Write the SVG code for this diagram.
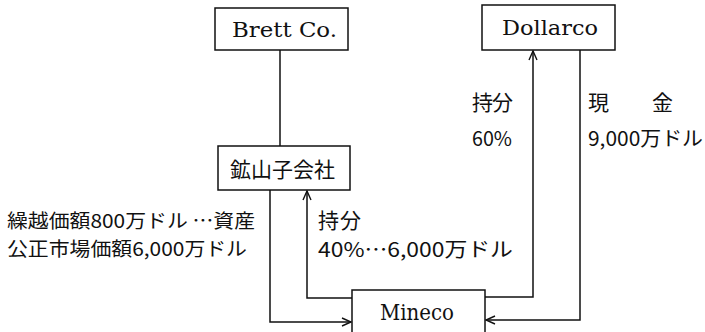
<svg xmlns="http://www.w3.org/2000/svg" width="705" height="332" viewBox="0 0 705 332">
  <defs>
    <marker id="arr" markerUnits="userSpaceOnUse" markerWidth="12" markerHeight="12" refX="10" refY="5" orient="auto">
      <path d="M1,1 L10,5 L1,9" fill="none" stroke="#111" stroke-width="1.4"/>
    </marker>
    <style>
      .box { fill: #fff; stroke: #111; stroke-width: 1.5; }
      .conn { fill: none; stroke: #111; stroke-width: 1.5; }
      .serif { font-family: "DejaVu Serif", "Liberation Serif", serif; fill: #111; }
      .jp { font-family: "Noto Sans CJK JP", "Noto Sans", sans-serif; fill: #111; }
    </style>
  </defs>
  <rect width="705" height="332" fill="#fff"/>

  <g id="connectors">
    <path class="conn" d="M280,50 V146"/>
    <path class="conn" d="M270,190 V322 H351" marker-end="url(#arr)"/>
    <path class="conn" d="M352,298 H307 V191" marker-end="url(#arr)"/>
    <path class="conn" d="M485,297 H533 V51" marker-end="url(#arr)"/>
    <path class="conn" d="M580,50 V320 H486" marker-end="url(#arr)"/>
  </g>

  <g id="brett">
    <rect class="box" x="215" y="8" width="133" height="42"/>
    <text class="serif" x="232" y="37" font-size="21" textLength="105" lengthAdjust="spacingAndGlyphs">Brett Co.</text>
  </g>

  <g id="dollarco">
    <rect class="box" x="482" y="5" width="133" height="45"/>
    <text class="serif" x="502" y="35" font-size="21" textLength="96" lengthAdjust="spacingAndGlyphs">Dollarco</text>
  </g>

  <g id="subsidiary">
    <rect class="box" x="218" y="146" width="132" height="44"/>
    <text class="jp" x="230" y="177" font-size="21" textLength="105" lengthAdjust="spacing">鉱山子会社</text>
  </g>

  <g id="mineco">
    <rect class="box" x="352" y="290" width="133" height="60"/>
    <text class="serif" x="380" y="320" font-size="22" textLength="74" lengthAdjust="spacingAndGlyphs">Mineco</text>
  </g>

  <g id="labels">
    <text class="jp" x="7" y="228" font-size="19" textLength="248" lengthAdjust="spacingAndGlyphs">繰越価額800万ドル  …資産</text>
    <text class="jp" x="7" y="256" font-size="19" textLength="240" lengthAdjust="spacingAndGlyphs">公正市場価額6,000万ドル</text>
    <text class="jp" x="318" y="228" font-size="21" textLength="43" lengthAdjust="spacing">持分</text>
    <text class="jp" x="318" y="257" font-size="20" textLength="195" lengthAdjust="spacingAndGlyphs">40%…6,000万ドル</text>
    <text class="jp" x="472" y="110" font-size="21" textLength="41" lengthAdjust="spacing">持分</text>
    <text class="jp" x="472" y="146" font-size="20" textLength="40" lengthAdjust="spacingAndGlyphs">60%</text>
    <text class="jp" x="588" y="110" font-size="21" textLength="85" lengthAdjust="spacing">現　金</text>
    <text class="jp" x="588" y="146" font-size="20" textLength="115" lengthAdjust="spacingAndGlyphs">9,000万ドル</text>
  </g>
</svg>
